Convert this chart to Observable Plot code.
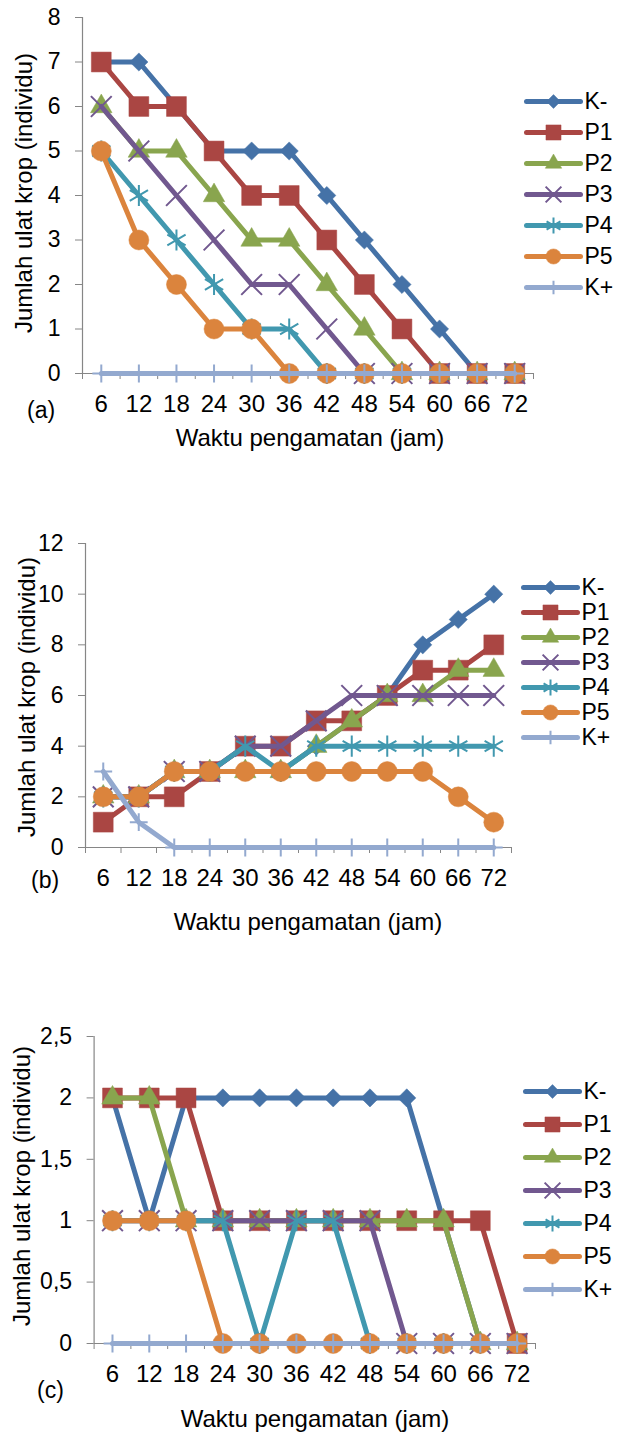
<!DOCTYPE html>
<html>
<head>
<meta charset="utf-8">
<script src="https://cdn.jsdelivr.net/npm/d3@7"></script>
<script src="https://cdn.jsdelivr.net/npm/@observablehq/plot@0.6"></script>
<style>
  html, body { margin: 0; padding: 0; background: #fff; }
  #page { position: relative; width: 617px; height: 1433px; overflow: hidden; font-family: "Liberation Sans", Arial, sans-serif; color: #000; }
  .abs { position: absolute; }
  .lbl { position: absolute; font-size: 23px; line-height: 26px; white-space: nowrap; }
  .ylab { position: absolute; font-size: 24px; line-height: 26px; white-space: nowrap; transform: translate(-50%, -50%) rotate(-90deg); }
  .xlab { position: absolute; font-size: 24px; line-height: 26px; white-space: nowrap; transform: translate(-50%, -50%); }
</style>
</head>
<body>
<div id="page"></div>
<script>
// ---------- data ----------
const hours = [6, 12, 18, 24, 30, 36, 42, 48, 54, 60, 66, 72];
const seriesNames = ["K-", "P1", "P2", "P3", "P4", "P5", "K+"];
const seriesColors = ["#4572A7", "#AA4643", "#89A54E", "#71588F", "#4198AF", "#DB843D", "#93A9CF"];
const seriesSymbols = ["diamond2", "square", "triangle", "times", "asterisk", "circle", "plus"];

// panel (a)
const a_Kminus = [7, 7, 6, 5, 5, 5, 4, 3, 2, 1, 0, 0];
const a_P1 = [7, 6, 6, 5, 4, 4, 3, 2, 1, 0, 0, 0];
const a_P2 = [6, 5, 5, 4, 3, 3, 2, 1, 0, 0, 0, 0];
const a_P3 = [6, 5, 4, 3, 2, 2, 1, 0, 0, 0, 0, 0];
const a_P4 = [5, 4, 3, 2, 1, 1, 0, 0, 0, 0, 0, 0];
const a_P5 = [5, 3, 2, 1, 1, 0, 0, 0, 0, 0, 0, 0];
const a_Kplus = [0, 0, 0, 0, 0, 0, 0, 0, 0, 0, 0, 0];
const a_yTicks = [0, 1, 2, 3, 4, 5, 6, 7, 8];

// panel (b)
const b_Kminus = [2, 2, 3, 3, 3, 3, 4, 5, 6, 8, 9, 10];
const b_P1 = [1, 2, 2, 3, 4, 4, 5, 5, 6, 7, 7, 8];
const b_P2 = [2, 2, 3, 3, 3, 3, 4, 5, 6, 6, 7, 7];
const b_P3 = [2, 2, 3, 3, 4, 4, 5, 6, 6, 6, 6, 6];
const b_P4 = [2, 2, 3, 3, 4, 3, 4, 4, 4, 4, 4, 4];
const b_P5 = [2, 2, 3, 3, 3, 3, 3, 3, 3, 3, 2, 1];
const b_Kplus = [3, 1, 0, 0, 0, 0, 0, 0, 0, 0, 0, 0];
const b_yTicks = [0, 2, 4, 6, 8, 10, 12];

// panel (c)
const c_Kminus = [2, 1, 2, 2, 2, 2, 2, 2, 2, 1, 0, 0];
const c_P1 = [2, 2, 2, 1, 1, 1, 1, 1, 1, 1, 1, 0];
const c_P2 = [2, 2, 1, 1, 1, 1, 1, 1, 1, 1, 0, 0];
const c_P3 = [1, 1, 1, 1, 1, 1, 1, 1, 0, 0, 0, 0];
const c_P4 = [1, 1, 1, 1, 0, 1, 1, 0, 0, 0, 0, 0];
const c_P5 = [1, 1, 1, 0, 0, 0, 0, 0, 0, 0, 0, 0];
const c_Kplus = [0, 0, 0, 0, 0, 0, 0, 0, 0, 0, 0, 0];
const c_yTicks = [0, 0.5, 1, 1.5, 2, 2.5];

const xTitle = "Waktu pengamatan (jam)";
const yTitle = "Jumlah ulat krop (individu)";

// ---------- drawing ----------
const FONT = "'Liberation Sans', Arial, sans-serif";
const GREY = "#868686";
const symR = { diamond2: 8.2, square: 11.2, triangle: 8, times: 9.5, asterisk: 10, circle: 10, plus: 5.8 };
const strokeSym = new Set(["times", "asterisk", "plus"]);
const page = document.getElementById("page");

function rows(values) {
  return hours.map((h, j) => ({ hour: h, value: values[j] }));
}

function dotOptions(sym, col, scale, xOpt, yOpt) {
  return strokeSym.has(sym)
    ? { x: xOpt, y: yOpt, symbol: () => sym, r: symR[sym] * scale, fill: "none", stroke: col, strokeWidth: 2 }
    : { x: xOpt, y: yOpt, symbol: () => sym, r: symR[sym] * scale, fill: col, stroke: col, strokeWidth: 0.5 };
}

function seriesMarks(values, i) {
  const sym = seriesSymbols[i];
  const col = seriesColors[i];
  const data = rows(values);
  return [
    Plot.line(data, { x: "hour", y: "value", stroke: col, strokeWidth: 5, strokeLinejoin: "round", strokeLinecap: "round" }),
    Plot.dot(data, dotOptions(sym, col, 1, "hour", "value"))
  ];
}

function drawPanel(cfg) {
  const boundaries = hours.map(h => h - 3).concat([hours[hours.length - 1] + 3]);
  const yMax = cfg.yTicks[cfg.yTicks.length - 1];
  const fmt = v => String(v).replace(".", ",");
  const marks = [
    Plot.ruleX([boundaries[0]], { y1: 0, y2: yMax, stroke: GREY, strokeWidth: 1.2 }),
    Plot.ruleY([0], { stroke: GREY, strokeWidth: 1.2 }),
    Plot.axisY({ ticks: cfg.yTicks, tickSize: 7, tickPadding: 15, tickFormat: fmt, stroke: GREY, fill: "#000", fontSize: 23, label: null }),
    Plot.axisX({ ticks: boundaries, tickSize: 6, tickFormat: () => "", stroke: GREY, label: null }),
    Plot.axisX({ ticks: hours, tickSize: 0, tickPadding: 21, tickFormat: d => String(d), fill: "#000", fontSize: 24, label: null })
  ];
  cfg.values.forEach((v, i) => marks.push(...seriesMarks(v, i)));
  const svg = Plot.plot({
    width: 617,
    height: cfg.height,
    marginLeft: cfg.x0,
    marginRight: 617 - cfg.x1,
    marginTop: cfg.yTop - cfg.top,
    marginBottom: cfg.top + cfg.height - cfg.y0,
    x: { type: "linear", domain: [boundaries[0], boundaries[boundaries.length - 1]], label: null },
    y: { type: "linear", domain: [0, yMax], label: null },
    style: { fontFamily: FONT, fontSize: "23px", color: "#000", background: "transparent", overflow: "visible" },
    marks
  });
  const holder = document.createElement("div");
  holder.className = "abs";
  holder.style.left = "0px";
  holder.style.top = cfg.top + "px";
  holder.appendChild(svg);
  page.appendChild(holder);

  // legend
  const leg = cfg.legend;
  const legMarks = [];
  seriesNames.forEach((name, i) => {
    const sym = seriesSymbols[i];
    const col = seriesColors[i];
    const d = [{ name }];
    legMarks.push(Plot.link(d, { x1: 0, x2: 1, y1: "name", y2: "name", stroke: col, strokeWidth: 5, strokeLinecap: "round" }));
    legMarks.push(Plot.dot(d, dotOptions(sym, col, 0.76, 0.5, "name")));
    legMarks.push(Plot.text(d, { x: 1, y: "name", text: "name", textAnchor: "start", dx: 4, fontSize: 23, fill: "#000" }));
  });
  const legSvg = Plot.plot({
    width: 117,
    height: leg.bottom - leg.top + 40,
    margin: 0,
    axis: null,
    x: { type: "linear", domain: [0, 1], range: [leg.x1 - 500, leg.x2 - 500] },
    y: { type: "point", domain: seriesNames, range: [20, leg.bottom - leg.top + 20] },
    style: { fontFamily: FONT, fontSize: "23px", color: "#000", background: "transparent", overflow: "visible" },
    marks: legMarks
  });
  const lh = document.createElement("div");
  lh.className = "abs";
  lh.style.left = "500px";
  lh.style.top = (leg.top - 20) + "px";
  lh.appendChild(legSvg);
  page.appendChild(lh);

  // texts
  const yl = document.createElement("div");
  yl.className = "ylab";
  yl.style.left = cfg.yLab[0] + "px";
  yl.style.top = cfg.yLab[1] + "px";
  yl.textContent = yTitle;
  page.appendChild(yl);

  const xl = document.createElement("div");
  xl.className = "xlab";
  xl.style.left = cfg.xLab[0] + "px";
  xl.style.top = cfg.xLab[1] + "px";
  xl.textContent = xTitle;
  page.appendChild(xl);

  const tag = document.createElement("div");
  tag.className = "lbl";
  tag.style.left = cfg.tag[0] + "px";
  tag.style.top = (cfg.tag[1] - 13) + "px";
  tag.textContent = cfg.tagText;
  page.appendChild(tag);
}

drawPanel({
  top: 0, height: 440, x0: 82, x1: 533, yTop: 17, y0: 373,
  yTicks: a_yTicks,
  values: [a_Kminus, a_P1, a_P2, a_P3, a_P4, a_P5, a_Kplus],
  legend: { top: 83, bottom: 305, x1: 526, x2: 580 },
  yLab: [24, 193], xLab: [310, 438], tag: [27, 410], tagText: "(a)"
});
drawPanel({
  top: 520, height: 420, x0: 85, x1: 511, yTop: 543, y0: 847,
  yTicks: b_yTicks,
  values: [b_Kminus, b_P1, b_P2, b_P3, b_P4, b_P5, b_Kplus],
  legend: { top: 571, bottom: 752, x1: 523, x2: 577 },
  yLab: [27, 697], xLab: [308, 922], tag: [31, 880], tagText: "(b)"
});
drawPanel({
  top: 1010, height: 423, x0: 93.6, x1: 535, yTop: 1036, y0: 1343,
  yTicks: c_yTicks,
  values: [c_Kminus, c_P1, c_P2, c_P3, c_P4, c_P5, c_Kplus],
  legend: { top: 1072, bottom: 1308, x1: 525, x2: 579 },
  yLab: [22, 1186], xLab: [315, 1419], tag: [37, 1390], tagText: "(c)"
});
</script>
</body>
</html>
